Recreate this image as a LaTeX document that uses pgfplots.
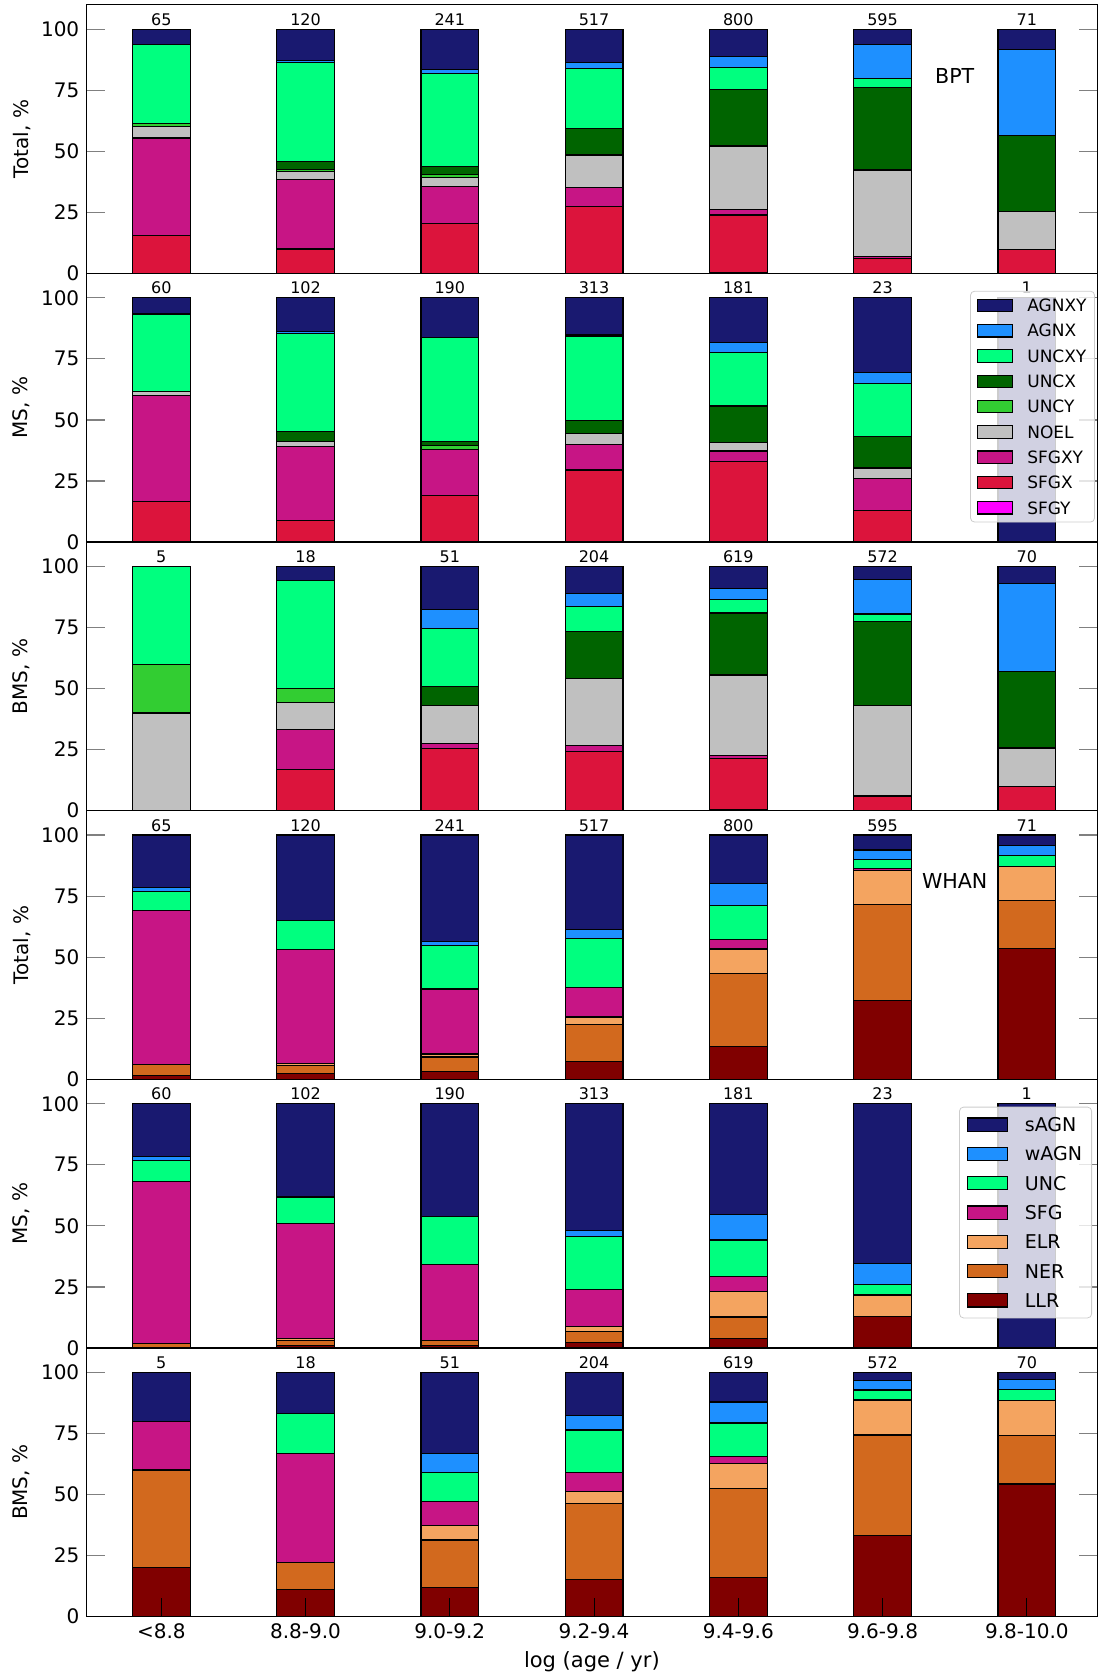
\documentclass[border=0pt]{standalone}
\usepackage{fontspec}
\setmainfont{DejaVu Sans}
\usepackage{pgfplots}
\usepackage{pgfplotstable}
\pgfplotsset{compat=1.18}

\definecolor{cAGNXY}{HTML}{191970}
\definecolor{cAGNX}{HTML}{1E90FF}
\definecolor{cUNCXY}{HTML}{00FF7F}
\definecolor{cUNCX}{HTML}{006400}
\definecolor{cUNCY}{HTML}{32CD32}
\definecolor{cNOEL}{HTML}{C0C0C0}
\definecolor{cSFGXY}{HTML}{C71585}
\definecolor{cSFGX}{HTML}{DC143C}
\definecolor{cSFGY}{HTML}{FF00FF}
\definecolor{cELR}{HTML}{F4A460}
\definecolor{cNER}{HTML}{D2691E}
\definecolor{cLLR}{HTML}{800000}

% BPT tables (percent)
\pgfplotstableread{
x SFGY SFGX SFGXY NOEL UNCY UNCX UNCXY AGNX AGNXY
0 0   15.4 40.0 4.6  1.5 0    32.3 0    6.2
1 0   10.0 28.3 3.3  0.8 3.3  40.8 0.8  12.7
2 0   20.3 15.4 3.7  1.2 3.3  37.8 1.7  16.6
3 0   27.5 7.5  13.4 0.2 10.7 24.6 2.3  13.8
4 0.4 23.5 2.1  25.9 0.6 22.8 9.0  4.4  11.3
5 0   6.0  0.8  35.5 0   33.8 3.8  13.7 6.4
6 0   9.9  0    15.5 0   31.0 0    35.2 8.4
}\bptTotal
\pgfplotstableread{
x SFGY SFGX SFGXY NOEL UNCY UNCX UNCXY AGNX AGNXY
0 0 16.7 43.3 1.7 0   0    31.7 0   6.6
1 0 8.8  30.4 2.0 0   3.9  40.2 1.0 13.7
2 0 18.9 18.9 0   1.6 1.6  42.6 0   16.4
3 0 29.5 10.4 4.5 0   5.2  34.7 0.5 15.2
4 0 32.9 4.4  3.3 0   15.1 21.9 4.0 18.4
5 0 13.0 13.0 4.3 0   13.0 21.7 4.3 30.7
6 0 0    0    0   0   0    0    0   100
}\bptMS
\pgfplotstableread{
x SFGY SFGX SFGXY NOEL UNCY UNCX UNCXY AGNX AGNXY
0 0   0    0    40.0 20.0 0    40.0 0    0
1 0   16.7 16.6 11.1 5.6  0    44.4 0    5.6
2 0   25.5 2.0  15.7 0    7.8  23.5 7.8  17.7
3 0   24.3 2.4  27.3 0    19.5 10.0 5.3  11.2
4 0.5 20.9 1.2  32.7 0.6  25.0 5.5  4.6  9.0
5 0   5.7  0.4  36.8 0    34.6 3.0  14.1 5.4
6 0   10.0 0    15.7 0    31.4 0    35.8 7.1
}\bptBMS
% WHAN tables (percent)
\pgfplotstableread{
x LLR NER ELR SFG UNC wAGN sAGN
0 1.5  4.6  0    63.1 7.7  1.5 21.6
1 2.5  3.3  0.8  46.7 11.7 0   35.0
2 3.3  5.8  1.3  26.6 17.8 1.7 43.5
3 7.4  15.1 3.0  12.2 20.1 3.7 38.5
4 13.3 30.0 10.1 3.8  14.0 9.0 19.8
5 32.2 39.5 13.8 0.7  3.8  3.9 6.1
6 53.5 19.7 14.1 0    4.2  4.2 4.3
}\whanTotal
\pgfplotstableread{
x LLR NER ELR SFG UNC wAGN sAGN
0 0    1.7 0    66.6 8.3  1.7  21.7
1 1.0  2.0 1.0  47.0 10.8 0    38.2
2 1.1  2.1 0    31.0 19.5 0    46.3
3 2.3  4.5 1.9  15.3 21.8 2.3  51.9
4 3.9  8.8 10.5 6.1  14.9 10.5 45.3
5 13.0 0   8.7  0    4.3  8.7  65.3
6 0    0   0    0    0    0    100
}\whanMS
\pgfplotstableread{
x LLR NER ELR SFG UNC wAGN sAGN
0 20.0 40.0 0    20.0 0    0   20.0
1 11.1 11.1 0    44.5 16.6 0   16.7
2 11.8 19.6 5.9  9.8  11.8 7.8 33.3
3 15.1 31.3 4.8  7.7  17.5 6.1 17.5
4 15.9 36.6 10.1 3.0  13.7 8.6 12.1
5 33.2 41.2 14.1 0.5  3.8  3.8 3.4
6 54.3 20.0 14.3 0    4.3  4.3 2.8
}\whanBMS

\newcommand{\bptbars}[1]{%
\addplot[bb=cSFGY] table[x=x,y=SFGY]{#1};
\addplot[bb=cSFGX] table[x=x,y=SFGX]{#1};
\addplot[bb=cSFGXY] table[x=x,y=SFGXY]{#1};
\addplot[bb=cNOEL] table[x=x,y=NOEL]{#1};
\addplot[bb=cUNCY] table[x=x,y=UNCY]{#1};
\addplot[bb=cUNCX] table[x=x,y=UNCX]{#1};
\addplot[bb=cUNCXY] table[x=x,y=UNCXY]{#1};
\addplot[bb=cAGNX] table[x=x,y=AGNX]{#1};
\addplot[bb=cAGNXY] table[x=x,y=AGNXY]{#1};
}
\newcommand{\whanbars}[1]{%
\addplot[bb=cLLR] table[x=x,y=LLR]{#1};
\addplot[bb=cNER] table[x=x,y=NER]{#1};
\addplot[bb=cELR] table[x=x,y=ELR]{#1};
\addplot[bb=cSFGXY] table[x=x,y=SFG]{#1};
\addplot[bb=cUNCXY] table[x=x,y=UNC]{#1};
\addplot[bb=cAGNX] table[x=x,y=wAGN]{#1};
\addplot[bb=cAGNXY] table[x=x,y=sAGN]{#1};
}
\newcommand{\nums}[7]{%
\node[numlab] at (axis cs:0,101.6) {#1};
\node[numlab] at (axis cs:1,101.6) {#2};
\node[numlab] at (axis cs:2,101.6) {#3};
\node[numlab] at (axis cs:3,101.6) {#4};
\node[numlab] at (axis cs:4,101.6) {#5};
\node[numlab] at (axis cs:5,101.6) {#6};
\node[numlab] at (axis cs:6,101.6) {#7};
}

\tikzset{numlab/.style={anchor=base, inner sep=0pt, font=\fontsize{8}{9}\selectfont}}

\pgfplotsset{
  bb/.style={fill=#1, draw=black, line width=0.6pt},
  panel/.style={
    at={(0pt,#1)}, anchor=north west,
    width=505.6pt, height=134.33pt, scale only axis,
    ybar stacked, bar width=0.4,
    xmin=-0.52, xmax=6.49, ymin=0, ymax=110,
    ytick={0,25,50,75,100},
    xtick=\empty,
    tick align=inside,
    major tick length=9.5pt,
    ytick style={gray, line width=0.6pt},
    axis on top,
    axis line style={line width=0.7pt},
    ylabel style={at={(axis description cs:-0.0639,0.5)}, anchor=center, font=\fontsize{10}{12}\selectfont},
    tick label style={font=\fontsize{10}{12}\selectfont},
    /pgf/number format/assume math mode=true,
    legend cell align=left,
    reverse legend,
  },
  leg1/.style={
    legend image code/.code={\draw[##1, draw=black, line width=0.6pt, fill opacity=1, sharp corners] (0pt,-3.1pt) rectangle (17.5pt,3.1pt);},
    legend style={at={(0.9975,0.935)}, anchor=north east,
      fill=white, fill opacity=0.8, text opacity=1, draw=black!20, rounded corners=2pt,
      font=\fontsize{8.5}{10}\selectfont,
      inner xsep=3pt, inner ysep=3pt, row sep=4.45pt,
      nodes={inner sep=1pt, text height=6.2pt, text depth=0pt},
      /tikz/every odd column/.append style={column sep=6.3pt}},
  },
  leg2/.style={
    legend image code/.code={\draw[##1, draw=black, line width=0.6pt, fill opacity=1, sharp corners] (0pt,-3.3pt) rectangle (20pt,3.3pt);},
    legend style={at={(0.9946,0.898)}, anchor=north east,
      fill=white, fill opacity=0.8, text opacity=1, draw=black!20, rounded corners=2pt,
      font=\fontsize{9.5}{11}\selectfont,
      inner xsep=3.8pt, inner ysep=4.3pt, row sep=5.75pt,
      nodes={inner sep=1pt, text height=6.9pt, text depth=0pt},
      /tikz/every odd column/.append style={column sep=7.3pt}},
  },
}

\begin{document}
\begin{tikzpicture}
\useasboundingbox (-43.15pt,2.35pt) rectangle (505.85pt,-833.65pt);

\begin{axis}[panel=0pt, ylabel={Total, \%}]
\bptbars{\bptTotal}
\nums{65}{120}{241}{517}{800}{595}{71}
\node[font=\fontsize{10.3}{12}\selectfont] at (axis cs:5.5,80.9) {BPT};
\end{axis}

\begin{axis}[panel=-134.325pt, ylabel={MS, \%}, leg1]
\bptbars{\bptMS}
\nums{60}{102}{190}{313}{181}{23}{1}
\legend{SFGY,SFGX,SFGXY,NOEL,UNCY,UNCX,UNCXY,AGNX,AGNXY}
\end{axis}

\begin{axis}[panel=-268.65pt, ylabel={BMS, \%}]
\bptbars{\bptBMS}
\nums{5}{18}{51}{204}{619}{572}{70}
\end{axis}

\begin{axis}[panel=-402.975pt, ylabel={Total, \%}]
\whanbars{\whanTotal}
\nums{65}{120}{241}{517}{800}{595}{71}
\node[font=\fontsize{10.3}{12}\selectfont] at (axis cs:5.5,81.3) {WHAN};
\end{axis}

\begin{axis}[panel=-537.3pt, ylabel={MS, \%}, leg2]
\whanbars{\whanMS}
\nums{60}{102}{190}{313}{181}{23}{1}
\legend{LLR,NER,ELR,SFG,UNC,wAGN,sAGN}
\end{axis}

\begin{axis}[panel=-671.625pt, ylabel={BMS, \%},
  xtick={0,1,2,3,4,5,6},
  xticklabels={<8.8,8.8-9.0,9.0-9.2,9.2-9.4,9.4-9.6,9.6-9.8,9.8-10.0},
  xtick pos=lower,
  xtick style={black, line width=0.5pt},
  xlabel={log (age / yr)},
  xlabel style={at={(axis description cs:0.5,0)}, anchor=base, yshift=-25.55pt, font=\fontsize{10.5}{12}\selectfont}]
\whanbars{\whanBMS}
\nums{5}{18}{51}{204}{619}{572}{70}
\end{axis}
\end{tikzpicture}
\end{document}
